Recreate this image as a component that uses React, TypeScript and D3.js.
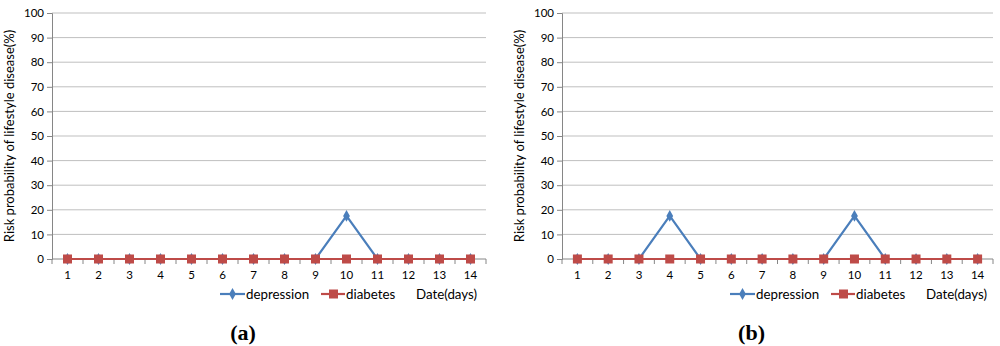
import React, { useEffect, useRef } from 'react'
import * as d3 from 'd3'

const days = ['1', '2', '3', '4', '5', '6', '7', '8', '9', '10', '11', '12', '13', '14']
const yTicks = [0, 10, 20, 30, 40, 50, 60, 70, 80, 90, 100]

const depressionA = [0, 0, 0, 0, 0, 0, 0, 0, 0, 17.5, 0, 0, 0, 0]
const diabetesA = [0, 0, 0, 0, 0, 0, 0, 0, 0, 0, 0, 0, 0, 0]
const depressionB = [0, 0, 0, 17.5, 0, 0, 0, 0, 0, 17.5, 0, 0, 0, 0]
const diabetesB = [0, 0, 0, 0, 0, 0, 0, 0, 0, 0, 0, 0, 0, 0]

const BLUE = '#4a7ebb'
const RED = '#be4b48'
const FONT = 'Lato, "Open Sans", sans-serif'

type PanelProps = {
  x0: number
  x1: number
  depression: number[]
  diabetes: number[]
  letter: string
}

const drawPanel = (svg: d3.Selection<SVGGElement, unknown, null, undefined>, p: PanelProps) => {
  const top = 13
  const bottom = 259

  const x = d3.scaleBand().domain(days).range([p.x0, p.x1])
  const y = d3.scaleLinear().domain([0, 100]).range([bottom, top])

  // gridlines
  svg
    .selectAll('.grid')
    .data(yTicks.filter(t => t > 0))
    .enter()
    .append('line')
    .attr('x1', p.x0)
    .attr('x2', p.x1)
    .attr('y1', d => y(d))
    .attr('y2', d => y(d))
    .attr('stroke', '#bfbfbf')
    .attr('stroke-width', 1)

  const yAxis = d3.axisLeft(y).tickValues(yTicks).tickSize(5).tickPadding(3)
  const ga = svg.append('g').attr('transform', `translate(${p.x0},0)`).call(yAxis)
  ga.select('.domain').attr('stroke', '#868686')
  ga.selectAll('.tick line').attr('stroke', '#868686')
  ga.selectAll('.tick text').attr('font-family', FONT).attr('font-size', 11.5).attr('fill', '#000')

  // x axis line, ticks on the band edges
  svg
    .append('line')
    .attr('x1', p.x0)
    .attr('x2', p.x1)
    .attr('y1', bottom)
    .attr('y2', bottom)
    .attr('stroke', '#868686')
  const bounds = days.map(d => x(d)!).concat([p.x1])
  svg
    .selectAll('.xt')
    .data(bounds)
    .enter()
    .append('line')
    .attr('x1', d => d)
    .attr('x2', d => d)
    .attr('y1', bottom)
    .attr('y2', bottom + 5)
    .attr('stroke', '#868686')
  svg
    .selectAll('.xl')
    .data(days)
    .enter()
    .append('text')
    .attr('x', d => x(d)! + x.bandwidth() / 2)
    .attr('y', bottom + 20)
    .attr('text-anchor', 'middle')
    .attr('font-family', FONT)
    .attr('font-size', 11.5)
    .text(d => d)

  const cx = (i: number) => x(days[i])! + x.bandwidth() / 2
  const line = d3
    .line<number>()
    .x((_, i) => cx(i))
    .y(d => y(d))

  svg.append('path').attr('d', line(p.depression)).attr('fill', 'none').attr('stroke', BLUE).attr('stroke-width', 2.2)
  const diamond = d3.symbol().type(d3.symbolDiamond).size(40)
  svg
    .selectAll('.dm')
    .data(p.depression)
    .enter()
    .append('path')
    .attr('d', diamond)
    .attr('transform', (d, i) => `translate(${cx(i)},${y(d)})`)
    .attr('fill', BLUE)

  svg.append('path').attr('d', line(p.diabetes)).attr('fill', 'none').attr('stroke', RED).attr('stroke-width', 2.2)
  svg
    .selectAll('.sq')
    .data(p.diabetes)
    .enter()
    .append('rect')
    .attr('x', (_, i) => cx(i) - 4.5)
    .attr('y', d => y(d) - 4.5)
    .attr('width', 9)
    .attr('height', 9)
    .attr('fill', RED)

  // y title
  svg
    .append('text')
    .attr('transform', `translate(${p.x0 - 38},${(top + bottom) / 2}) rotate(-90)`)
    .attr('text-anchor', 'middle')
    .attr('font-family', FONT)
    .attr('font-size', 13)
    .text('Risk probability of lifestyle disease(%)')

  // legend
  const ly = 294
  const lx = p.x0 + 168
  const lg = svg.append('g').attr('font-family', FONT).attr('font-size', 13.3)
  lg.append('line').attr('x1', lx).attr('x2', lx + 25).attr('y1', ly).attr('y2', ly).attr('stroke', BLUE).attr('stroke-width', 2.2)
  lg.append('path').attr('d', diamond).attr('transform', `translate(${lx + 12.5},${ly})`).attr('fill', BLUE)
  lg.append('text').attr('x', lx + 26).attr('y', ly + 5).text('depression')
  const lx2 = lx + 101
  lg.append('line').attr('x1', lx2).attr('x2', lx2 + 24).attr('y1', ly).attr('y2', ly).attr('stroke', RED).attr('stroke-width', 2.2)
  lg.append('rect').attr('x', lx2 + 8).attr('y', ly - 4.5).attr('width', 9).attr('height', 9).attr('fill', RED)
  lg.append('text').attr('x', lx2 + 25).attr('y', ly + 5).text('diabetes')
  lg.append('text').attr('x', lx2 + 95).attr('y', ly + 5).text('Date(days)')

  // panel label
  const lab = svg
    .append('text')
    .attr('x', (p.x0 + p.x1) / 2 - 26)
    .attr('y', 340)
    .attr('text-anchor', 'middle')
    .attr('font-family', '"Liberation Serif", serif')
    .attr('font-size', 22)
    .attr('font-weight', 'bold')
  lab.append('tspan').text('(')
  lab.append('tspan').text(p.letter)
  lab.append('tspan').text(')')
}

const App = () => {
  const ref = useRef<SVGSVGElement>(null)

  useEffect(() => {
    const svg = d3.select(ref.current)
    svg.selectAll('*').remove()
    svg.append('rect').attr('width', 1000).attr('height', 346).attr('fill', '#fff')
    drawPanel(svg.append('g'), { x0: 52, x1: 486, depression: depressionA, diabetes: diabetesA, letter: 'a' })
    drawPanel(svg.append('g'), { x0: 562, x1: 993, depression: depressionB, diabetes: diabetesB, letter: 'b' })
  }, [])

  return (
    <svg
      ref={ref}
      width={1000}
      height={346}
      style={{ position: 'absolute', left: 0, top: 0, display: 'block' }}
    />
  )
}

export default App
